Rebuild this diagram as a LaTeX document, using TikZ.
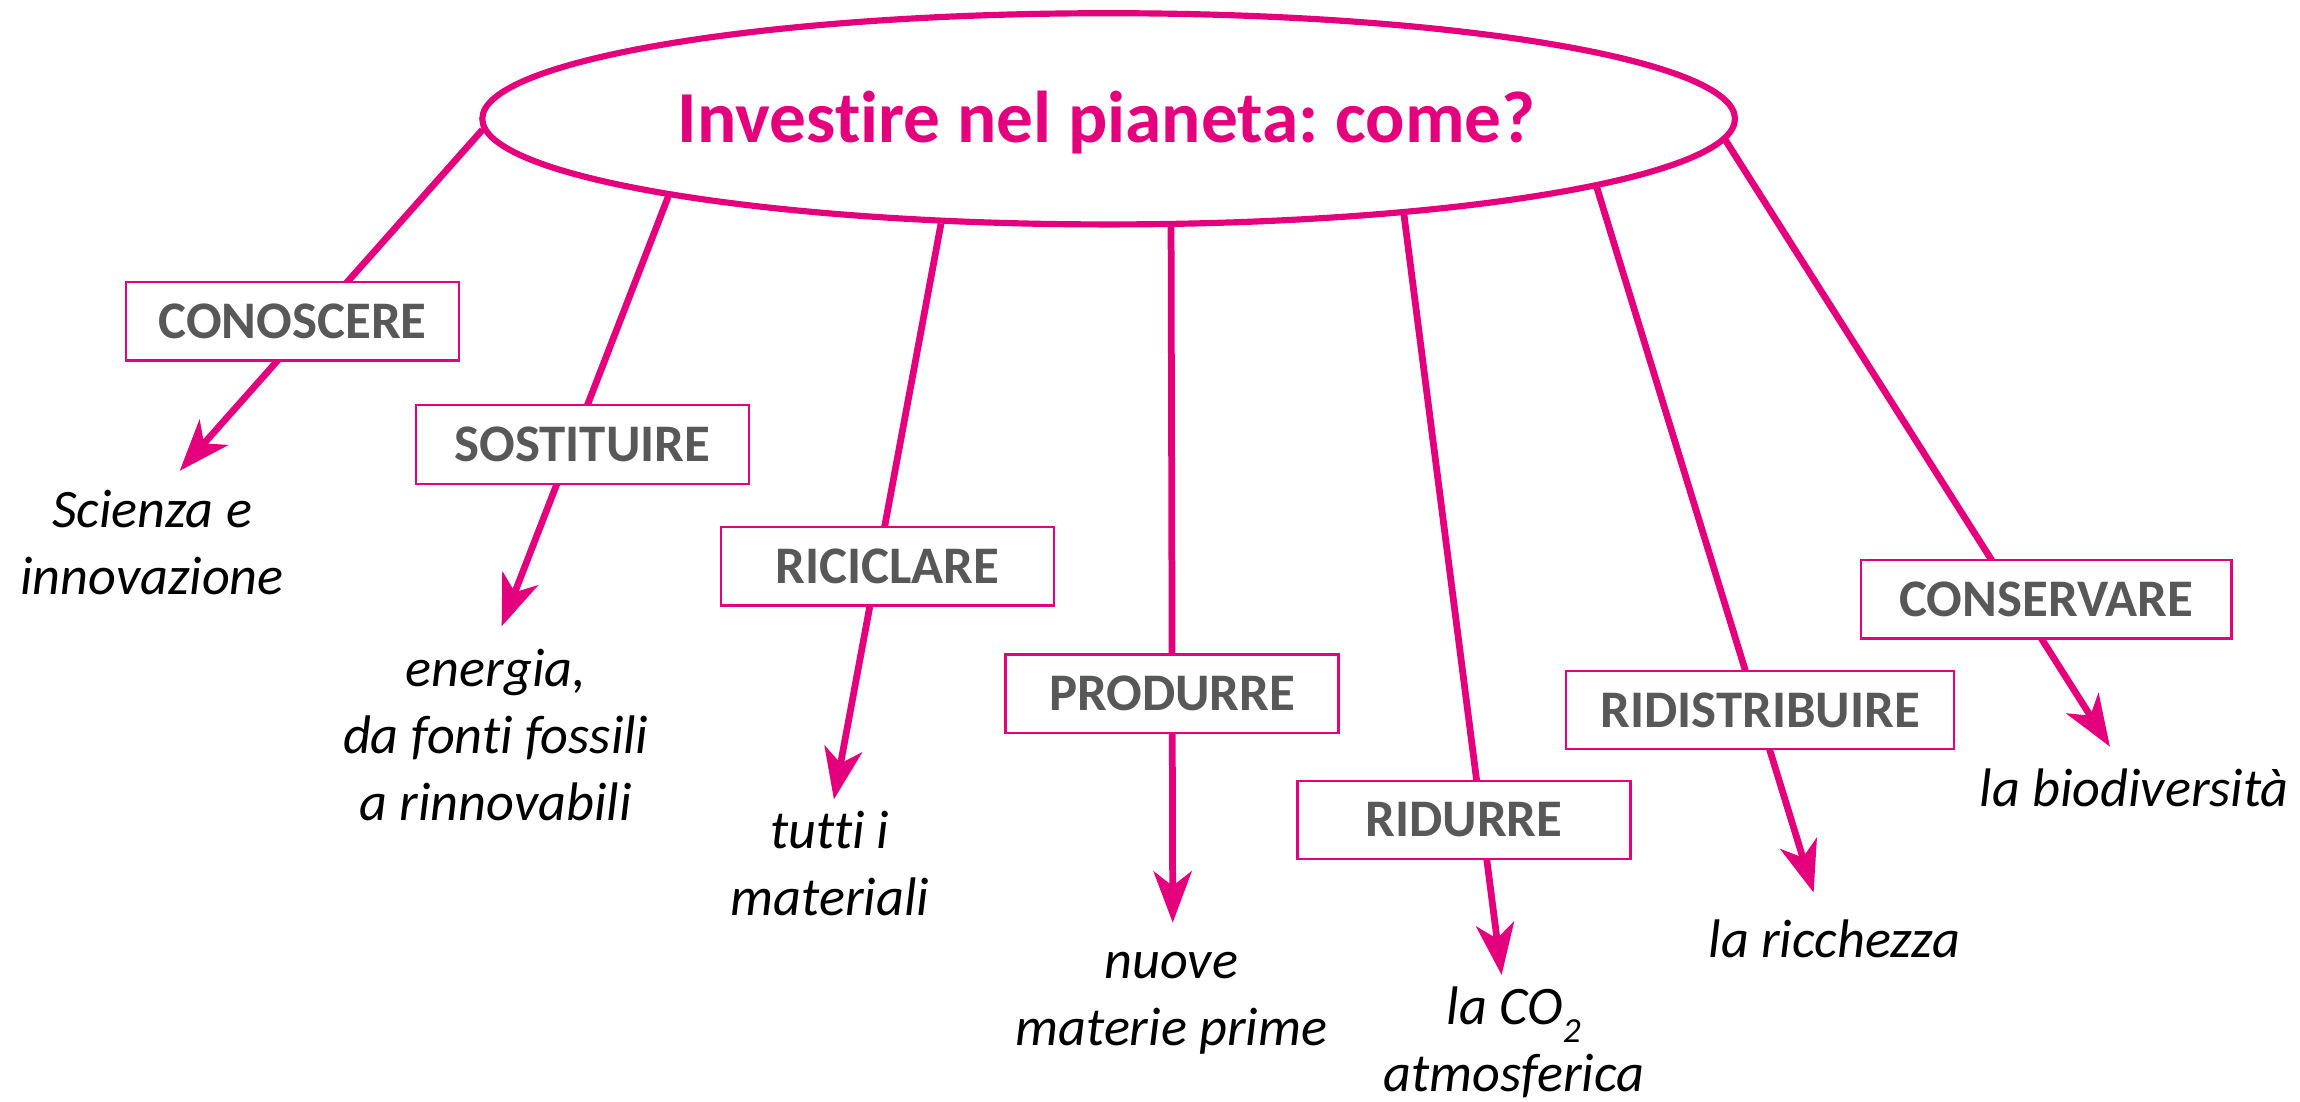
\documentclass[tikz,border=0pt]{standalone}
\usepackage{fontspec}
\setmainfont{Carlito}[Ligatures=NoCommon]
\usetikzlibrary{arrows.meta,shapes.geometric}
\definecolor{pinkc}{RGB}{228,0,124}
\definecolor{grayc}{RGB}{88,88,88}
\frenchspacing
\begin{document}
\begin{tikzpicture}[x=0.5pt,y=-0.5pt,
  conn/.style={draw=pinkc, line width=2.3pt},
  arr/.style={conn, -{Stealth[length=17.5pt,width=13pt,inset=5pt]}},
  box/.style={draw=pinkc, line width=0.8pt, fill=white, minimum width=113.5pt,
    minimum height=26.75pt, inner sep=0pt, text=grayc,
    font=\fontsize{18}{21}\selectfont\bfseries},
  lbl/.style={font=\fontsize{18.5}{22.8}\selectfont\itshape, text=black,
    inner sep=0pt, anchor=base}
]
\useasboundingbox (0,0) rectangle (1568,750.6);
% central ellipse
\node[draw=pinkc, line width=2.1pt, ellipse, minimum width=427pt,
  minimum height=72pt, inner sep=0pt] (top) at (755.8,81) {};
\node[text=pinkc, font=\fontsize{25}{30}\selectfont\bfseries, anchor=base,
  inner sep=0pt] (title) at (754.5,97) {Investire nel pianeta: come?};
% arrow tips
\coordinate (t1) at (122.5,321);
\coordinate (t2) at (342,427);
\coordinate (t3) at (568.5,545);
\coordinate (t4) at (799.5,629);
\coordinate (t5) at (1023.7,664.7);
\coordinate (t6) at (1236.4,608.5);
\coordinate (t7) at (1438.4,509);
% connectors
\draw[arr] (top.181.9) -- (t1);
\draw[arr] (top.190) -- (t2);
\draw[arr] (top.212.9) -- (t3);
\draw[arr] (top.-60.3) -- (t4);
\draw[arr] (top.-18.4) -- (t5);
\draw[arr] (top.-8.96) -- (t6);
\draw[arr] (top.-2.05) -- (t7);
% boxes
\node[box] (b1) at (199.5,219) {CONOSCERE};
\node[box] (b2) at (397,303) {SOSTITUIRE};
\node[box] (b3) at (605,386) {RICICLARE};
\node[box] (b4) at (799,473) {PRODURRE};
\node[box] (b5) at (998,559) {RIDURRE};
\node[box, minimum width=132.25pt] (b6) at (1200,484) {RIDISTRIBUIRE};
\node[box, minimum width=126.25pt] (b7) at (1395,408.5) {CONSERVARE};
% labels
\node[lbl] (l1) at (103.7,359.5) {\begin{tabular}[t]{@{}c@{}}Scienza e\\innovazione\end{tabular}};
\node[lbl] (l2) at (338,468) {\begin{tabular}[t]{@{}c@{}}energia,\\da fonti fossili\\a rinnovabili\end{tabular}};
\node[lbl] (l3) at (565.7,578.6) {\begin{tabular}[t]{@{}c@{}}tutti i\\materiali\end{tabular}};
\node[lbl] (l4) at (798.5,667) {\begin{tabular}[t]{@{}c@{}}nuove\\materie prime\end{tabular}};
\node[lbl] (l5) at (1032,698.6) {\begin{tabular}[t]{@{}c@{}}la CO\raisebox{-6pt}{\fontsize{12}{12}\selectfont 2}\\atmosferica\end{tabular}};
\node[lbl] (l6) at (1250.6,653) {la ricchezza};
\node[lbl] (l7) at (1455,550) {la biodiversità};
\end{tikzpicture}
\end{document}
